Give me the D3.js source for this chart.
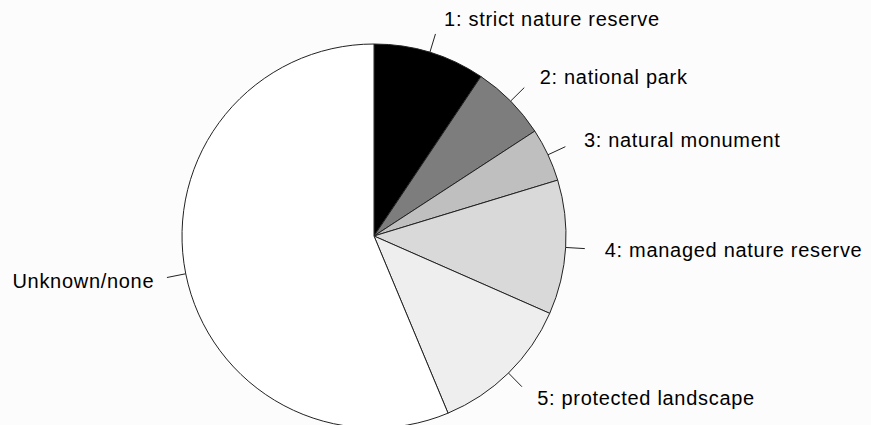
<!DOCTYPE html>
<html><head><meta charset="utf-8">
<script src="https://cdn.jsdelivr.net/npm/d3@7"></script>
<style>body{margin:0;background:#fcfcfc;}svg{display:block;}</style>
</head><body><svg id="c" width="871" height="425"></svg>
<script>
const categories = ["1: strict nature reserve","2: national park","3: natural monument","4: managed nature reserve","5: protected landscape","Unknown/none"];
const values = [9.4, 6.4, 4.5, 11.3, 12.1, 56.3];
const colors = ["#000000","#7d7d7d","#bfbfbf","#d9d9d9","#eeeeee","#ffffff"];

const svg = d3.select("#c");
const cx = 374, cy = 236, r = 192;
const g = svg.append("g").attr("transform", `translate(${cx},${cy})`);
const pie = d3.pie().sort(null).value(d => d.v);
const data = pie(categories.map((c,i)=>({c, v: values[i], col: colors[i]})));
const arc = d3.arc().innerRadius(0).outerRadius(r);
g.selectAll("path.s").data(data).enter().append("path")
  .attr("d", arc).attr("fill", d=>d.data.col)
  .attr("stroke", "#222").attr("stroke-width", 1);
data.forEach(d => {
  const a = (d.startAngle + d.endAngle)/2;
  const sx = Math.sin(a), sy = -Math.cos(a);
  const le = r*1.1, td = r*1.1 + 16;
  g.append("line").attr("x1", sx*r).attr("y1", sy*r).attr("x2", sx*le).attr("y2", sy*le)
    .attr("stroke", "#222").attr("stroke-width", 1);
  const tx = sx*td + (sx>=0 ? 4 : 3), ty = sy*td;
  g.append("text").attr("x", tx).attr("y", ty).attr("dy", "0.36em")
    .attr("text-anchor", sx>=0 ? "start" : "end")
    .attr("font-family", "Liberation Sans, Arial, sans-serif").attr("font-size", 20)
    .attr("letter-spacing", 0.7)
    .attr("fill", "#000").text(d.data.c);
});
</script></body></html>
